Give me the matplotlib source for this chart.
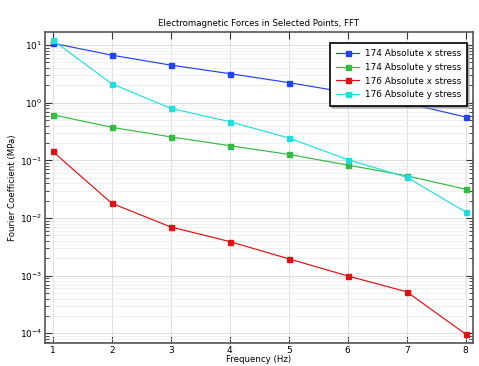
import numpy as np
import matplotlib.pyplot as plt

# data
freq = [1, 2, 3, 4, 5, 6, 7, 8]
p174_x = [10.8, 6.7, 4.5, 3.2, 2.24, 1.5, 0.98, 0.566]
p174_y = [0.62, 0.375, 0.256, 0.18, 0.127, 0.083, 0.054, 0.0316]
p176_x = [0.143, 0.018, 0.0070, 0.0039, 0.00196, 0.00099, 0.000525, 0.0000965]
p176_y = [12.2, 2.13, 0.80, 0.47, 0.245, 0.103, 0.051, 0.0127]
labels = ['174 Absolute x stress', '174 Absolute y stress',
          '176 Absolute x stress', '176 Absolute y stress']
colors = ['#2244ee', '#33bb44', '#dd1111', '#22dddd']

fig = plt.figure(figsize=(4.79, 3.66), dpi=100)
ax = fig.add_axes([0.094, 0.063, 0.893, 0.85])

for ys, lab, c in zip([p174_x, p174_y, p176_x, p176_y], labels, colors):
    ax.plot(freq, ys, color=c, marker='s', markersize=3.6, linewidth=0.85, label=lab)

ax.set_yscale('log')
ax.set_xlim(0.87, 8.12)
ax.set_ylim(6.8e-5, 17)
ax.set_xticks(freq)
ax.grid(True, which='major', color='#dddddd', linewidth=0.7)
ax.grid(True, which='minor', color='#eeeeee', linewidth=0.6)
ax.set_axisbelow(True)
ax.tick_params(which='both', direction='in', top=True, right=True, labelsize=6.5,
               color='#333333', pad=2)
ax.tick_params(which='major', length=5)
ax.tick_params(which='minor', length=3)
for s in ax.spines.values():
    s.set_color('#555555')
    s.set_linewidth(1.2)

ax.set_title('Electromagnetic Forces in Selected Points, FFT', fontsize=6.2, pad=4)
ax.set_xlabel('Frequency (Hz)', fontsize=6.2, labelpad=0)
ax.set_ylabel('Fourier Coefficient (MPa)', fontsize=6.2, labelpad=2)

leg = ax.legend(loc='upper right', fontsize=6.4, fancybox=False,
                shadow={'ox': 1.5, 'oy': -1.5, 'color': '0.55'},
                borderpad=0.7, labelspacing=0.55, handlelength=2.6, handletextpad=0.6,
                bbox_to_anchor=(0.997, 0.98))
leg.get_frame().set_edgecolor('black')
leg.get_frame().set_linewidth(1.2)
leg.get_frame().set_alpha(1)

plt.savefig('out.png', dpi=100)
